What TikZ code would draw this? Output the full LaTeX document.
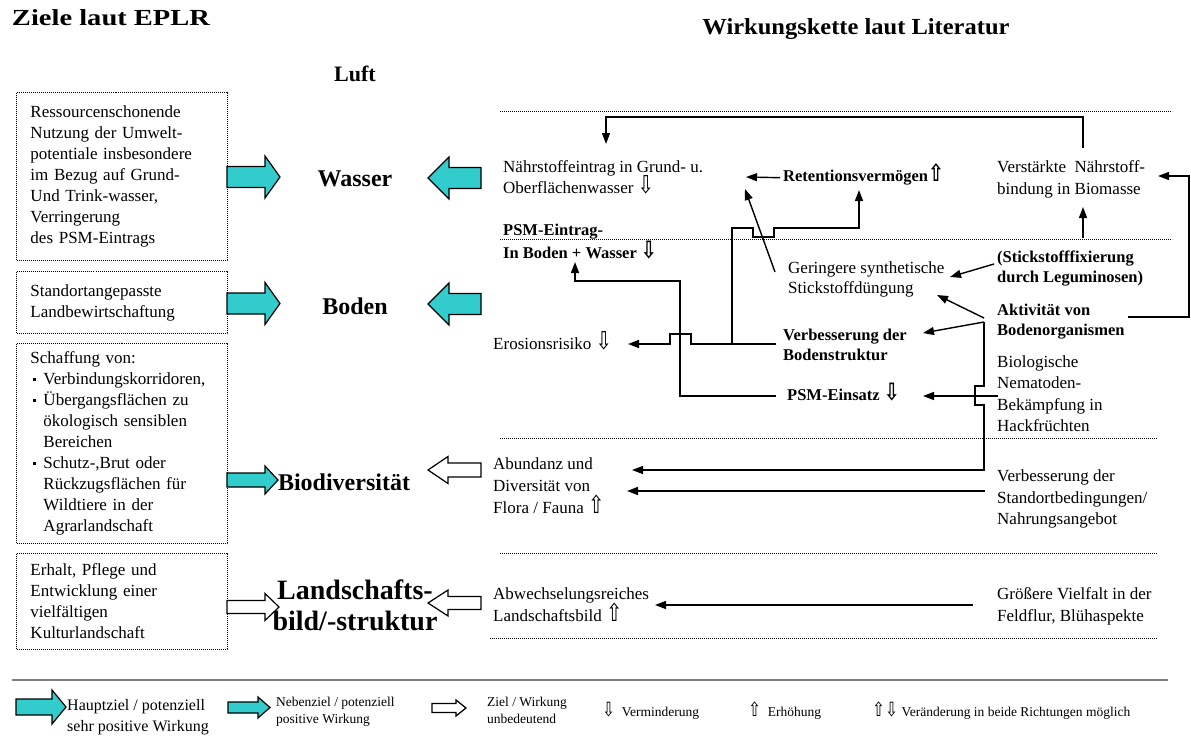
\documentclass[tikz,border=0pt]{standalone}
\usepackage{fontspec}
\usepackage{graphicx}
\setmainfont{Liberation Serif}
\newfontfamily\symfont{DejaVu Sans}
\usetikzlibrary{arrows.meta}

\definecolor{arrowcyan}{RGB}{51,204,204}
\definecolor{rulegray}{RGB}{128,128,128}

% hollow arrows for decrease / increase (smashed so they keep the line spacing)
\newcommand\dnar{\smash{\scalebox{1.15}[1.45]{\symfont ⇩}}}
\newcommand\upar{\smash{\scalebox{1.15}[1.45]{\symfont ⇧}}}
% bullet list helpers for the goal boxes
\newcommand\bulitem{\makebox[13pt][l]{\hspace{2pt}\rule[4pt]{3pt}{3pt}}}
\newcommand\bulcont{\hspace*{13pt}}

% block arrow: style, tail x, neck x, tip x, centre y, shaft half-width, head half-width
\newcommand\blockarrow[7]{%
  \draw[#1] (#2,#5-#6) -- (#3,#5-#6) -- (#3,#5-#7) -- (#4,#5)
    -- (#3,#5+#7) -- (#3,#5+#6) -- (#2,#5+#6) -- cycle;}

\tikzset{
  goalbox/.style={draw, dash pattern=on 1pt off 1pt, line width=1pt,
    text width=183pt, align=left, inner xsep=14pt, inner ysep=0pt,
    anchor=north west, font=\fontsize{17}{21}\selectfont},
  wlabel/.style={inner sep=0pt, anchor=north west, align=left,
    font=\fontsize{17}{21.5}\selectfont},
  wbold/.style={inner sep=0pt, anchor=north west, align=left,
    font=\fontsize{16.5}{20}\selectfont\bfseries},
  sepline/.style={dash pattern=on 0.9pt off 1.1pt, line width=0.8pt},
  conn/.style={line width=1.4pt},
  tip/.style={conn, -{Triangle[length=11pt,width=8pt]}},
  mainfill/.style={fill=arrowcyan, draw=black, line width=1.2pt},
  minorfill/.style={fill=white, draw=black, line width=1.2pt},
  topic/.style={inner sep=0pt, font=\fontsize{24}{28}\selectfont\bfseries},
  legtext/.style={inner sep=0pt, anchor=north west, align=left,
    font=\fontsize{13.5}{17}\selectfont},
}

\begin{document}
\begin{tikzpicture}[x=1pt,y=-1pt]
\useasboundingbox[fill=white] (0,0) rectangle (1191,736);

% ---------- headings ----------
\node (headEPLR) at (111,18)
  {\resizebox{198pt}{\height}{\fontsize{23}{26}\selectfont\bfseries Ziele laut EPLR}};
\node (headLit) at (856,29)
  {\resizebox{307pt}{\height}{\fontsize{23}{26}\selectfont\bfseries Wirkungskette laut Literatur}};
\node[font=\fontsize{22}{26}\selectfont\bfseries] (luft) at (355,74) {Luft};

% ---------- goals (left column) ----------
\node[goalbox, minimum height=168pt] (goalWater) at (16,92)
  {Ressourcenschonende\\Nutzung der Umwelt-\\potentiale insbesondere\\im Bezug auf Grund-\\Und Trink-wasser,\\Verringerung\\des PSM-Eintrags};
\node[goalbox, minimum height=62pt] (goalSoil) at (16,271)
  {Standortangepasste\\Landbewirtschaftung};
\node[goalbox, minimum height=200pt] (goalBio) at (16,343)
  {Schaffung von:\\
   \bulitem Verbindungskorridoren,\\
   \bulitem Übergangsflächen zu\\
   \bulcont ökologisch sensiblen\\
   \bulcont Bereichen\\
   \bulitem Schutz-,Brut oder\\
   \bulcont Rückzugsflächen für\\
   \bulcont Wildtiere in der\\
   \bulcont Agrarlandschaft};
\node[goalbox, minimum height=96pt] (goalLand) at (16,553)
  {Erhalt, Pflege und\\Entwicklung einer\\vielfältigen\\Kulturlandschaft};

% ---------- protected goods (middle column) ----------
\node[topic] (wasser) at (355,179) {Wasser};
\node[topic] (boden) at (355,306) {Boden};
\node[topic] (biodiv) at (344,482) {Biodiversität};
\node[inner sep=0pt, align=center, font=\fontsize{28}{31}\selectfont\bfseries]
  (landsch) at (355,605) {Landschafts-\\bild/-struktur};

% goal arrows (left to middle)
\blockarrow{mainfill}{227}{265}{280}{177}{10.5}{21}
\blockarrow{mainfill}{227}{265}{280}{303.5}{10.5}{21}
\blockarrow{mainfill}{227}{265}{278}{480}{7}{14}
\blockarrow{minorfill}{227}{265}{279}{607}{6.5}{13.5}
% effect arrows (right to middle)
\blockarrow{mainfill}{481}{449}{428}{178}{10.5}{21}
\blockarrow{mainfill}{481}{449}{428}{304}{10.5}{21}
\blockarrow{minorfill}{481}{448}{428}{470}{7}{13.5}
\blockarrow{minorfill}{481}{448}{428}{603}{6.5}{13}

% ---------- separators of the effect chain ----------
\draw[sepline] (500,111) -- (1172,111);
\draw[sepline] (500,239) -- (1172,239);
\draw[sepline] (500,438) -- (1157,438);
\draw[sepline] (500,553) -- (1157,553);
\draw[sepline] (490,638) -- (1157,638);

% ---------- effect chain texts ----------
\node[wlabel] (naehr) at (503,157) {\strut Nährstoffeintrag in Grund- u.\\\strut Oberflächenwasser \dnar};
\node[wbold, font=\fontsize{16.5}{23}\selectfont\bfseries] (psmEintrag) at (503,219.5)
  {\strut PSM-Eintrag-\\\strut In Boden + Wasser \dnar};
\node[wlabel] (eros) at (493,334.5) {\strut Erosionsrisiko \dnar};
\node[wbold] (ret) at (783,167.5) {\strut Retentionsvermögen\upar};
\node[wlabel] (verst) at (997,157.5) {\strut Verstärkte\ \ Nährstoff-\\\strut bindung in Biomasse};
\node[wlabel, font=\fontsize{17}{20.5}\selectfont] (ger) at (788,258.5)
  {\strut Geringere synthetische\\\strut Stickstoffdüngung};
\node[wbold] (stick) at (997,248.5) {\strut (Stickstofffixierung\\\strut durch Leguminosen)};
\node[wbold] (akt) at (997,301.5) {\strut Aktivität von\\\strut Bodenorganismen};
\node[wbold] (verb) at (783,326.5) {\strut Verbesserung der\\\strut Bodenstruktur};
\node[wbold] (psmEinsatz) at (787,386.5) {\strut PSM-Einsatz \dnar};
\node[wlabel, font=\fontsize{17}{21.3}\selectfont] (bio) at (997,352.5)
  {\strut Biologische\\\strut Nematoden-\\\strut Bekämpfung in\\\strut Hackfrüchten};
\node[wlabel, font=\fontsize{17}{22}\selectfont] (abund) at (493,453.5)
  {\strut Abundanz und\\\strut Diversität von\\\strut Flora / Fauna \upar};
\node[wlabel] (stand) at (997,466.5)
  {\strut Verbesserung der\\\strut Standortbedingungen/\\\strut Nahrungsangebot};
\node[wlabel, font=\fontsize{17}{22}\selectfont] (abw) at (493,583.5)
  {\strut Abwechselungsreiches\\\strut Landschaftsbild \upar};
\node[wlabel, font=\fontsize{17}{22}\selectfont] (gross) at (997,583.5)
  {\strut Größere Vielfalt in der\\\strut Feldflur, Blühaspekte};

% ---------- connector end points ----------
\coordinate (verstTop) at (1083,148);
\coordinate (naehrTip) at (606,144);
\coordinate (retTip) at (746,177);
\coordinate (gerFoot) at (775,272);
\coordinate (gerTip) at (745,189);
\coordinate (verbLeft) at (776,344);
\coordinate (erosTip) at (628,344);
\coordinate (branch) at (732,344);
\coordinate (retUpTip) at (859,190);
\coordinate (psmLeft) at (776,396);
\coordinate (psmEintragTip) at (575,262);
\coordinate (stickLeft) at (994,264);
\coordinate (gerTipA) at (950,277);
\coordinate (aktLeftA) at (984,318);
\coordinate (gerTipB) at (937,295);
\coordinate (aktLeftB) at (984,322);
\coordinate (verbTip) at (923,333);
\coordinate (abundTip) at (632,470);
\coordinate (bioLeft) at (998,396);
\coordinate (psmTip) at (923,396);
\coordinate (aktRight) at (1128,317);
\coordinate (verstTip) at (1158,176);
\coordinate (stickTop) at (1083,238);
\coordinate (verstBottomTip) at (1083,207);
\coordinate (standLeft) at (985,491);
\coordinate (abundTipB) at (627,491);
\coordinate (grossLeft) at (973,605);
\coordinate (abwTip) at (655,605);

% ---------- connectors ----------
\draw[tip] (verstTop) -- (1083,117) -- (606,117) -- (naehrTip);
\draw[tip] (ret.west) ++(-3,0) -- (retTip);
\draw[tip] (gerFoot) -- (gerTip);
\draw[tip] (verbLeft) -- (691,344) -- (691,334) -- (670,334) -- (670,344) -- (erosTip);
\draw[tip] (branch) -- (732,228) -- (753,228) -- (753,237) -- (774,237) -- (774,228)
  -- (859,228) -- (retUpTip);
\draw[tip] (psmLeft) -- (680,396) -- (680,281) -- (575,281) -- (psmEintragTip);
\draw[tip] (stickLeft) -- (gerTipA);
\draw[tip] (aktLeftA) -- (gerTipB);
\draw[tip] (aktLeftB) -- (verbTip);
\draw[tip] (aktLeftB) -- (984,386) -- (975,386) -- (975,405) -- (984,405) -- (984,470)
  -- (abundTip);
\draw[tip] (bioLeft) -- (psmTip);
\draw[tip] (aktRight) -- (1189,317) -- (1189,176) -- (verstTip);
\draw[tip] (stickTop) -- (verstBottomTip);
\draw[tip] (standLeft) -- (abundTipB);
\draw[tip] (grossLeft) -- (abwTip);

% ---------- legend ----------
\draw[line width=2pt, rulegray] (12,680) -- (1168,680);
\blockarrow{mainfill}{16}{52}{66}{707}{8}{17}
\node[inner sep=0pt, anchor=north west, align=left, font=\fontsize{16}{21}\selectfont]
  (legMain) at (67,695.3) {\strut Hauptziel / potenziell\\\strut sehr positive Wirkung};
\blockarrow{mainfill}{228}{258}{270}{707.5}{5.5}{10.5}
\node[legtext] (legSide) at (276,694) {\strut Nebenziel / potenziell\\\strut positive Wirkung};
\blockarrow{minorfill}{432}{456}{466}{708}{4.5}{8}
\node[legtext] (legMinor) at (487,694) {\strut Ziel / Wirkung\\\strut unbedeutend};
\node[inner sep=0pt, anchor=west, font=\fontsize{13.5}{17}\selectfont] (legDown) at (602,713)
  {\dnar\ \ Verminderung};
\node[inner sep=0pt, anchor=west, font=\fontsize{13.5}{17}\selectfont] (legUp) at (748,713)
  {\upar\ \ Erhöhung};
\node[inner sep=0pt, anchor=west, font=\fontsize{13.5}{17}\selectfont] (legBoth) at (872,713)
  {\upar\dnar\ Veränderung in beide Richtungen möglich};
\end{tikzpicture}
\end{document}
